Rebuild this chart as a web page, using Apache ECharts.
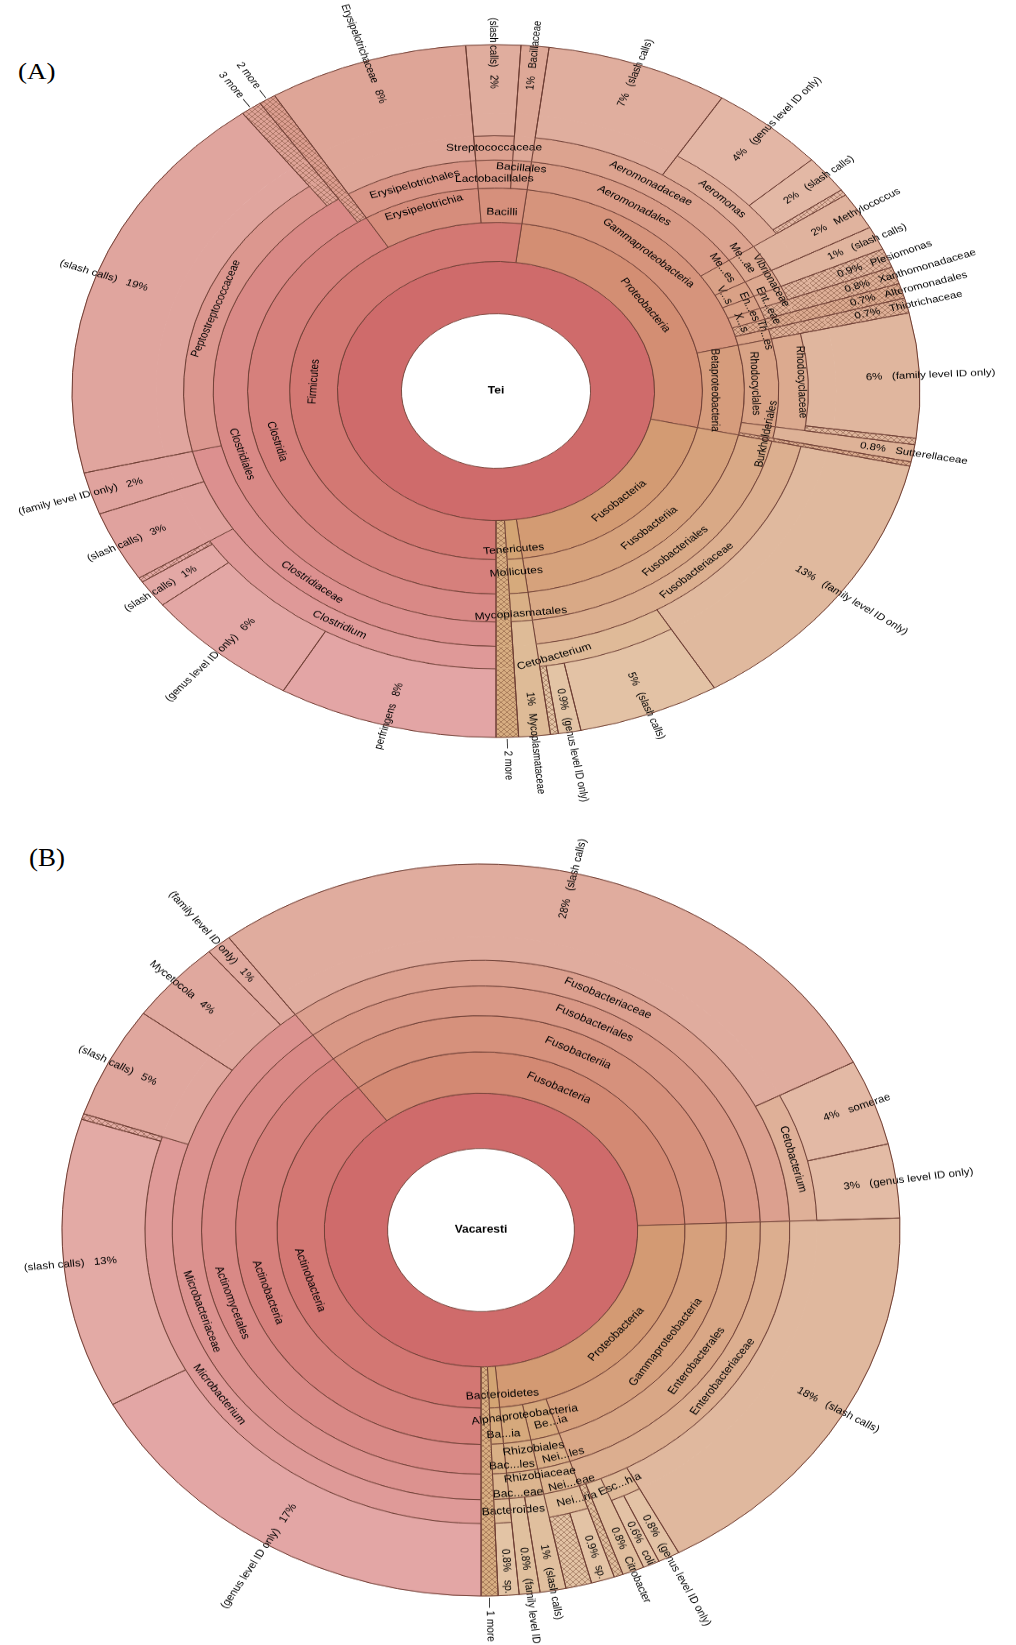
<!DOCTYPE html>
<html><head><meta charset="utf-8">
<script src="https://cdn.jsdelivr.net/npm/echarts@6/dist/echarts.min.js"></script>
<style>
html,body{margin:0;padding:0;background:#fff;width:1016px;height:1645px;overflow:hidden;position:relative;}
.panel{position:absolute;left:0;width:1016px;}
.tag{position:absolute;font-family:"Liberation Serif","DejaVu Serif",serif;color:#000;line-height:1;transform-origin:0 0;}
</style></head><body>
<div class="tag" style="left:18px;top:61px;font-size:27px;transform:scaleY(0.82)">(A)</div>
<div class="tag" style="left:29px;top:846px;font-size:27px;transform:scaleY(0.92)">(B)</div>
<div id="chartA" class="panel"></div>
<div id="chartB" class="panel"></div>
<script>
// ---------------- DATA (values in % of reads, clockwise order) ----------------
const teiPaths = [
 'Proteobacteria/Gammaproteobacteria/Aeromonadales/Aeromonadaceae/(slash calls)',
 'Proteobacteria/Gammaproteobacteria/Aeromonadales/Aeromonadaceae/Aeromonas/(genus level ID only)',
 'Proteobacteria/Gammaproteobacteria/Aeromonadales/Aeromonadaceae/Aeromonas/(slash calls)',
 'Proteobacteria/Gammaproteobacteria/Aeromonadales/Aeromonadaceae/Aeromonas/(unassigned)',
 'Proteobacteria/Gammaproteobacteria/Me...es/Me...ae/Methylococcus',
 'Proteobacteria/Gammaproteobacteria/V...s/Vibrionaceae/(slash calls)',
 'Proteobacteria/Gammaproteobacteria/En...es/Ent...eae/Plesiomonas',
 'Proteobacteria/Gammaproteobacteria/X...s/Xanthomonadaceae',
 'Proteobacteria/Gammaproteobacteria/Alteromonadales',
 'Proteobacteria/Gammaproteobacteria/Th...es/Thiotrichaceae',
 'Proteobacteria/Betaproteobacteria/Rhodocyclales/Rhodocyclaceae/(family level ID only)',
 'Proteobacteria/Betaproteobacteria/Rhodocyclales/Rhodocyclaceae/(unassigned)',
 'Proteobacteria/Betaproteobacteria/Burkholderiales/Sutterellaceae',
 'Proteobacteria/Betaproteobacteria/(unassigned)',
 'Fusobacteria/Fusobacteriia/Fusobacteriales/Fusobacteriaceae/(family level ID only)',
 'Fusobacteria/Fusobacteriia/Fusobacteriales/Fusobacteriaceae/Cetobacterium/(slash calls)',
 'Fusobacteria/Fusobacteriia/Fusobacteriales/Fusobacteriaceae/Cetobacterium/(genus level ID only)',
 'Fusobacteria/Fusobacteriia/Fusobacteriales/Fusobacteriaceae/Cetobacterium/(unassigned)',
 'Tenericutes/Mollicutes/Mycoplasmatales/Mycoplasmataceae',
 '2 more',
 'Firmicutes/Clostridia/Clostridiales/Clostridiaceae/Clostridium/perfringens',
 'Firmicutes/Clostridia/Clostridiales/Clostridiaceae/Clostridium/(genus level ID only)',
 'Firmicutes/Clostridia/Clostridiales/Clostridiaceae/Clostridium/(slash calls)',
 'Firmicutes/Clostridia/Clostridiales/Clostridiaceae/Clostridium/(unassigned)',
 'Firmicutes/Clostridia/Clostridiales/Clostridiaceae/(slash calls)',
 'Firmicutes/Clostridia/Clostridiales/Clostridiaceae/(family level ID only)',
 'Firmicutes/Clostridia/Clostridiales/Peptostreptococcaceae/(slash calls)',
 'Firmicutes/Clostridia/Clostridiales/3 more',
 'Firmicutes/Clostridia/2 more',
 'Firmicutes/Erysipelotrichia/Erysipelotrichales/Erysipelotrichaceae',
 'Firmicutes/Bacilli/Lactobacillales/Streptococcaceae/(slash calls)',
 'Firmicutes/Bacilli/Bacillales/Bacillaceae'
];
const teiValues = [6.94, 4.42, 1.78, 0.28, 1.75, 1.1, 0.9, 0.8, 0.7, 0.7,
  5.8, 0.3, 0.8, 0.2, 12.9, 5.4, 0.86, 0.3, 1.2, 0.85,
  8.36, 6.04, 1.3, 0.22, 3.3, 1.97, 18.6, 0.8, 0.65, 7.6, 2.08, 1.06];
const teiUnassignedTaxa = ['Plesiomonas', 'Xanthomonadaceae', 'Alteromonadales', 'Thiotrichaceae'];

const vacPaths = [
 'Fusobacteria/Fusobacteriia/Fusobacteriales/Fusobacteriaceae/(slash calls)',
 'Fusobacteria/Fusobacteriia/Fusobacteriales/Fusobacteriaceae/Cetobacterium/somerae',
 'Fusobacteria/Fusobacteriia/Fusobacteriales/Fusobacteriaceae/Cetobacterium/(genus level ID only)',
 'Proteobacteria/Gammaproteobacteria/Enterobacterales/Enterobacteriaceae/(slash calls)',
 'Proteobacteria/Gammaproteobacteria/Enterobacterales/Enterobacteriaceae/Esc...hia/(genus level ID only)',
 'Proteobacteria/Gammaproteobacteria/Enterobacterales/Enterobacteriaceae/Esc...hia/coli',
 'Proteobacteria/Gammaproteobacteria/Enterobacterales/Enterobacteriaceae/Citrobacter',
 'Proteobacteria/Gammaproteobacteria/Enterobacterales/Enterobacteriaceae/(unassigned)',
 'Proteobacteria/Be...ia/Nei...les/Nei...eae/Nei...ria/sp.',
 'Proteobacteria/Be...ia/Nei...les/Nei...eae/Nei...ria/(unassigned)',
 'Proteobacteria/Alphaproteobacteria/Rhizobiales/Rhizobiaceae/(slash calls)',
 'Proteobacteria/Alphaproteobacteria/Rhizobiales/Rhizobiaceae/(family level ID only)',
 'Bacteroidetes/Ba...ia/Bac...les/Bac...eae/Bacteroides/sp.',
 '1 more',
 'Actinobacteria/Actinobacteria/Actinomycetales/Microbacteriaceae/Microbacterium/(genus level ID only)',
 'Actinobacteria/Actinobacteria/Actinomycetales/Microbacteriaceae/Microbacterium/(slash calls)',
 'Actinobacteria/Actinobacteria/Actinomycetales/Microbacteriaceae/Microbacterium/(unassigned)',
 'Actinobacteria/Actinobacteria/Actinomycetales/Microbacteriaceae/(slash calls)',
 'Actinobacteria/Actinobacteria/Actinomycetales/Microbacteriaceae/Mycetocola',
 'Actinobacteria/Actinobacteria/Actinomycetales/Microbacteriaceae/(family level ID only)'
];
const vacValues = [27.7, 3.8, 3.26, 17.7, 0.84, 0.64, 0.84, 0.35, 0.9, 1.0,
  1.0, 0.8, 0.8, 0.65, 17.1, 12.8, 0.25, 4.94, 3.67, 0.97];
const vacUnassignedTaxa = [];

// ---------------- STYLE / LAYOUT ----------------
const RING = [0.223, 0.374, 0.487, 0.586, 0.667, 0.737, 0.802, 1.0];
const MAXD = 6;
const LINE = '#6d3d33';
const FONT = '"Liberation Sans", Arial, sans-serif';
const ROOT_COLOR = '#cf6b6b';
const HALF_LH = 6; // half label line height (lineHeight 12)
// label nudges [along-text shift, across-text shift (+ = down in text frame)] for crowded labels
const teiLabelNudge = {
  'Bacillales': [0, -8.5],
  'Lactobacillales': [0, 6],
  'Bacilli': [0, 8.5],
  'Erysipelotrichia': [0, -8.5],
  'Tenericutes': [0, 12],
  'Mollicutes': [0, -5],
  'Mycoplasmatales': [0, 8],
  'Cetobacterium': [-52, 0],
  'Me...es': [-11, -6],
  'V...s': [-4.5, 8.6],
  'En...es': [2, -8],
  'X...s': [3, 6.6],
  'Th...es': [0, -12],
  'Me...ae': [-11, 2.6],
  'Vibrionaceae': [0, -9],
  'Ent...eae': [8, 6],
  'Rhodocyclales': [0, 6.5],
  'Burkholderiales': [-3, 9.7],
  'Betaproteobacteria': [0, 8.5],
  'Rhodocyclaceae': [0, -8]
};
const vacLabelNudge = {
  'Bacteroidetes': [9, 9],
  'Alphaproteobacteria': [12, -9],
  'Ba...ia': [7, 10],
  'Be...ia': [10, 6],
  'Rhizobiales': [15, -7],
  'Bac...les': [13, 8],
  'Nei...les': [12, 8],
  'Rhizobiaceae': [17, -8],
  'Bac...eae': [17, 9],
  'Nei...eae': [12, 9],
  'Bacteroides': [11, 0],
  'Nei...ria': [12, 0]
};

function colorAt(theta, d, leaf, hueOrigin) {
  const hf = ((((theta - hueOrigin) % 360) + 360) % 360) / 360;
  const hue = 31 * Math.pow(hf, 1.2);
  const L = leaf ? 66 + 1.8 * d : 61.5 + 2.4 * d;
  return 'hsl(' + hue.toFixed(1) + ',52%,' + L.toFixed(1) + '%)';
}
function hatch(color) {
  const c = document.createElement('canvas'); c.width = 6; c.height = 6;
  const g = c.getContext('2d');
  g.fillStyle = color; g.fillRect(0, 0, 6, 6);
  g.strokeStyle = 'rgba(105,60,40,0.55)'; g.lineWidth = 0.8;
  g.beginPath(); g.moveTo(0, 0); g.lineTo(6, 6); g.moveTo(6, 0); g.lineTo(0, 6); g.stroke();
  return { image: c, repeat: 'repeat' };
}
function fmt(v) { return v < 0.95 ? v.toFixed(1) : String(Math.round(v)); }
function applyNudge(lab, nd) {
  if (!nd) return lab;
  const dx = nd[0], dy = nd[1];
  const pl = dx > 0 ? 2 * dx : 0, pr = dx < 0 ? -2 * dx : 0;
  if (dy > 0) { lab.verticalAlign = 'top'; lab.padding = [dy - HALF_LH, pr, 0, pl]; }
  else if (dy < 0) { lab.verticalAlign = 'bottom'; lab.padding = [0, pr, -dy - HALF_LH, pl]; }
  else lab.padding = [0, pr, 0, pl];
  return lab;
}

function build(paths, values, unassignedTaxa, cfg) {
  const root = { name: '(consensus)', kids: [] };
  paths.forEach((p, i) => {
    let node = root;
    p.split('/').forEach(part => {
      let c = node.kids.find(k => k.name === part);
      if (!c) { c = { name: part, kids: [] }; node.kids.push(c); }
      node = c;
    });
    node.value = values[i];
  });
  const sum = n => n.kids.length ? n.kids.reduce((a, k) => a + sum(k), 0) : n.value;
  const total = sum(root);
  const flat = [];
  let cursor = 0;
  function conv(n, d) {
    const v = sum(n);
    const t0 = cfg.startTheta + cursor / total * 360;
    const t1 = t0 + v / total * 360;
    const tm = (t0 + t1) / 2;
    const leaf = !n.kids.length;
    const col = d === 0 ? ROOT_COLOR : colorAt(t0 + 0.3 * (t1 - t0), d, leaf, cfg.hueOrigin);
    if (!leaf) {
      const lab = d === 0 ? { show: false } : applyNudge({ show: true }, cfg.nudge[n.name]);
      return { name: n.name, itemStyle: { color: col }, label: lab,
        children: n.kids.map(k => conv(k, d + 1)) };
    }
    cursor += v;
    flat.push({ value: v, depth: d, name: n.name });
    const isMore = /more$/.test(n.name);
    const unassigned = n.name === '(unassigned)' || isMore || unassignedTaxa.includes(n.name);
    const fill = unassigned ? hatch(col) : col;
    const left = (((tm % 360) + 360) % 360) > 180;
    let lab = { show: false };
    if (isMore) {
      lab = { show: true, rotate: 'radial', position: 'outside', distance: 2, fontSize: 11.5,
        formatter: left ? n.name + ' \u2014' : '\u2014 ' + n.name };
    } else if (n.name !== '(unassigned)') {
      const pct = fmt(v) + '%';
      lab = { show: true, rotate: 'radial', position: 'outside', distance: -cfg.R * 0.127, fontSize: 11.5,
        formatter: left ? n.name + '   ' + pct : pct + '   ' + n.name };
    }
    const st = { color: fill, borderColor: col, borderWidth: 1 };
    let chain = null;
    for (let k = MAXD; k > d; k--) {
      const c = { name: n.name, value: v, itemStyle: st, label: k === MAXD ? lab : { show: false } };
      if (chain) c.children = [chain];
      chain = c;
    }
    const out = { name: n.name, value: v, itemStyle: st, label: d === MAXD ? lab : { show: false } };
    if (chain) out.children = [chain];
    return out;
  }
  const data = conv(root, 0);
  return { data, flat };
}

function makeOption(paths, values, unassignedTaxa, cfg, title) {
  const b = build(paths, values, unassignedTaxa, cfg);
  const levels = [{}];
  for (let d = 0; d <= MAXD; d++) levels.push({ r0: RING[d] * cfg.R, r: RING[d + 1] * cfg.R });
  const series = [{
    type: 'sunburst', center: [cfg.cx, cfg.cy], radius: [RING[0] * cfg.R, cfg.R],
    startAngle: 90 - cfg.startTheta, clockwise: true,
    sort: function (a, b) { return a.dataIndex - b.dataIndex; },
    nodeClick: false, animation: false, silent: true,
    itemStyle: { borderColor: LINE, borderWidth: 0.9 },
    label: { rotate: 'tangential', color: '#000', fontFamily: FONT, fontSize: 12, lineHeight: 12, textBorderWidth: 0 },
    emphasis: { focus: 'none' },
    levels: levels,
    data: [b.data]
  }];
  const depths = [...new Set(b.flat.map(l => l.depth))];
  depths.forEach(d => {
    series.push({
      type: 'pie', silent: true, animation: false, z: 5,
      center: [cfg.cx, cfg.cy], radius: [RING[d] * cfg.R, cfg.R],
      startAngle: 90 - cfg.startTheta, clockwise: true,
      label: { show: false }, labelLine: { show: false },
      data: b.flat.map(l => ({ name: l.name, value: l.value,
        itemStyle: l.depth === d ? { color: 'rgba(0,0,0,0)', borderColor: LINE, borderWidth: 1 }
                                 : { color: 'rgba(0,0,0,0)', borderWidth: 0 } }))
    });
  });
  return {
    animation: false,
    series: series,
    graphic: [
      { type: 'text', x: cfg.cx, y: cfg.cy, silent: true,
        style: { text: title, align: 'center', verticalAlign: 'middle', font: 'bold 12px ' + FONT, fill: '#000' } },
      { type: 'text', x: cfg.cx, y: cfg.cy - 0.268 * cfg.R, silent: true,
        style: { text: '(consensus)', align: 'center', verticalAlign: 'middle', font: '12px ' + FONT, fill: '#000' } }
    ]
  };
}

function mount(id, pageCx, pageCy, R, scaleY, topExtent, bottomExtent, startTheta, hueOrigin, paths, values, un, nudge, title) {
  const el = document.getElementById(id);
  const cy = topExtent;
  el.style.top = (pageCy - cy) + 'px';
  el.style.height = (topExtent + bottomExtent) + 'px';
  el.style.transformOrigin = pageCx + 'px ' + cy + 'px';
  el.style.transform = 'scaleY(' + scaleY + ')';
  const chart = echarts.init(el, null, { renderer: 'canvas' });
  chart.setOption(makeOption(paths, values, un,
    { cx: pageCx, cy: cy, R: R, startTheta: startTheta, hueOrigin: hueOrigin, nudge: nudge }, title));
}

mount('chartA', 496, 391, 424, 0.817, 480, 530, 7.2, 179.9, teiPaths, teiValues, teiUnassignedTaxa, teiLabelNudge, 'Tei');
mount('chartB', 481, 1230, 419, 0.8735, 500, 480, 323, 179.85, vacPaths, vacValues, vacUnassignedTaxa, vacLabelNudge, 'Vacaresti');
</script>
</body></html>
